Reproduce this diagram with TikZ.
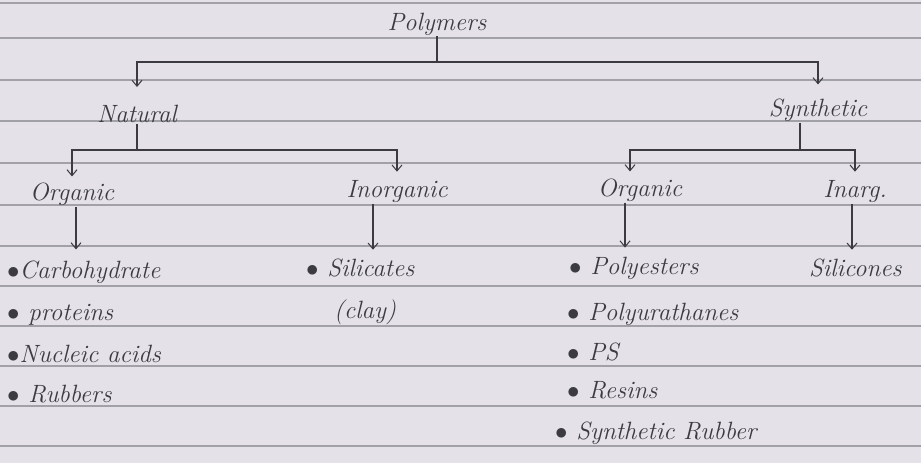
\documentclass[tikz,border=0pt]{standalone}
\usetikzlibrary{arrows.meta}
\definecolor{paper}{HTML}{E4E2E8}
\definecolor{rule}{HTML}{A2A1A8}
\definecolor{ink}{HTML}{3C3B42}
\tikzset{
  t/.style={inner sep=1pt, text=ink, font=\fontsize{25}{29}\selectfont\itshape},
  tl/.style={t, anchor=west},
  ln/.style={draw=ink, line width=1.1pt},
  arr/.style={ln, -{Straight Barb[length=6pt,width=10pt,line width=1pt]}, shorten >=3pt},
  ruleline/.style={draw=rule, line width=1.2pt}
}
\begin{document}
\begin{tikzpicture}[x=1pt,y=-1pt]
\useasboundingbox (0,0) rectangle (921,463);
\fill[paper] (0,0) rectangle (921,463);
\foreach \yy in {3,38,80,121,163,205,246,286,326,366,406,446}
  \draw[ruleline] (0,\yy) -- (921,\yy);

% level 0
\node[t] (poly) at (437,24) {Polymers};
\coordinate (j1) at (437,62);
% level 1
\node[t] (nat) at (137,114) {Natural};
\node[t] (syn) at (818,110) {Synthetic};
\draw[ln] (poly.south) -- (j1);
\draw[arr] (j1) -| ([yshift=14pt]nat.north);
\draw[arr] (j1) -| ([yshift=10pt]syn.north);

% level 2
\node[t] (norg) at (72,194) {Organic};
\node[t] (ninorg) at (397,192) {Inorganic};
\node[t] (sorg) at (640,190) {Organic};
\node[t] (sinorg) at (855,192) {Inarg.};
\coordinate (j2) at (137,150);
\coordinate (j3) at (800,150);
\draw[ln] (nat.south) -- (j2);
\draw[ln] (j3 |- syn.south) -- (j3);
\draw[arr] (j2) -| ([yshift=2pt]norg.north);
\draw[arr] (j2) -| ([yshift=5pt]ninorg.north);
\draw[arr] (j3) -| ([xshift=-10pt,yshift=3pt]sorg.north);
\draw[arr] (j3) -| ([yshift=5pt]sinorg.north);

% lists
\node[tl] (carb) at (6,272) {$\bullet$Carbohydrate};
\node[tl] (prot) at (6,315) {$\bullet$ proteins};
\node[tl] (nucl) at (6,354) {$\bullet$Nucleic acids};
\node[tl] (rubb) at (6,394) {$\bullet$ Rubbers};

\node[tl] (sili) at (305,268) {$\bullet$ Silicates};
\node[tl] (clay) at (333,312) {(clay)};

\node[tl] (pest) at (568,268) {$\bullet$ Polyesters};
\node[tl] (purt) at (566,314) {$\bullet$ Polyurathanes};
\node[tl] (ps)   at (566,352) {$\bullet$ PS};
\node[tl] (res)  at (566,390) {$\bullet$ Resins};
\node[tl] (srub) at (554,433) {$\bullet$ Synthetic Rubber};

\node[tl] (silc) at (808,268) {Silicones};

% arrows to lists
\draw[arr, shorten >=10pt] ([xshift=4pt]norg.south) -- ([xshift=4pt]norg.south |- carb.north);
\draw[arr, shorten >=8pt] ([xshift=-24pt]ninorg.south) -- ([xshift=-24pt]ninorg.south |- sili.north);
\draw[arr, shorten >=8pt] ([xshift=-15pt]sorg.south) -- ([xshift=-15pt]sorg.south |- pest.north);
\draw[arr, shorten >=8pt] ([xshift=-3pt]sinorg.south) -- ([xshift=-3pt]sinorg.south |- silc.north);
\end{tikzpicture}
\end{document}
